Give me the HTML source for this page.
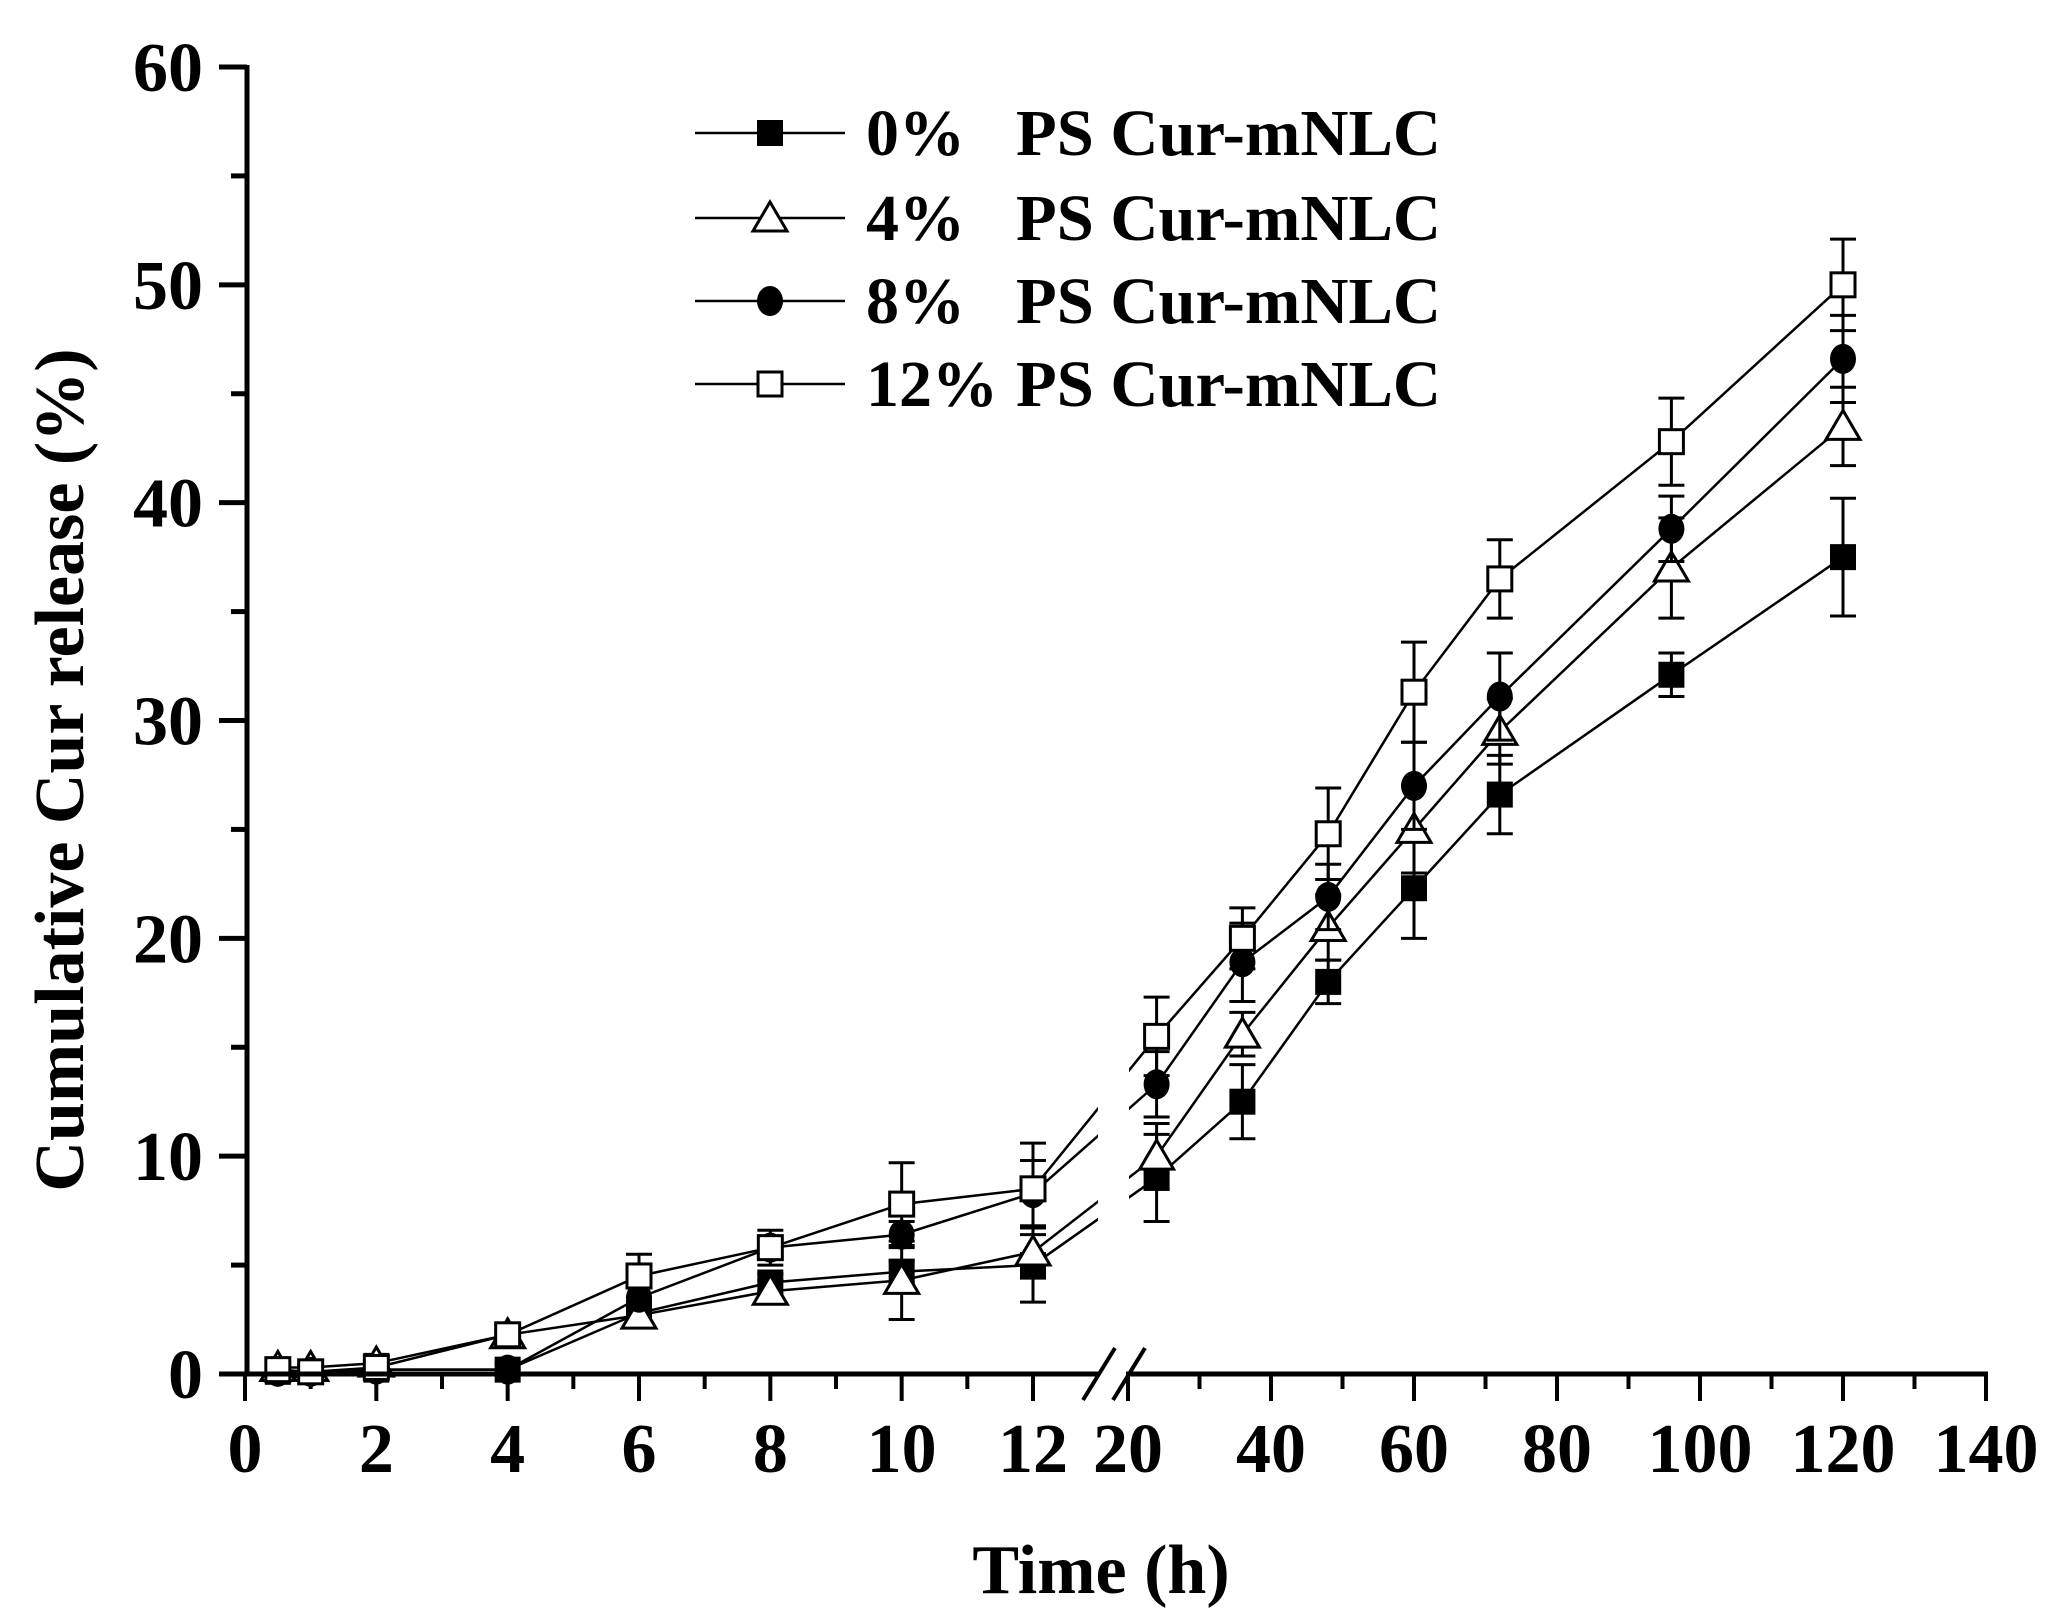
<!DOCTYPE html>
<html><head><meta charset="utf-8"><style>
html,body{margin:0;padding:0;background:#fff}
svg{display:block}
text{font-family:"Liberation Serif",serif;font-weight:bold;fill:#000}
</style></head><body>
<svg id="chart" width="2048" height="1623" viewBox="0 0 2048 1623" xmlns="http://www.w3.org/2000/svg"></svg>
<script>
const hours = [0.5,1,2,4,6,8,10,12,24,36,48,60,72,96,120];
const s0 = [0.1,0.1,0.2,0.2,2.8,4.2,4.7,5.0,9.0,12.5,18.0,22.3,26.6,32.1,37.5];
const e0 = [0.2,0.2,0.2,0.3,0.5,0.4,0.5,1.7,2.0,1.7,1.0,2.3,1.8,1.0,2.7];
const s4 = [0.3,0.3,0.5,1.8,2.7,3.8,4.3,5.6,10.0,15.6,20.5,25.0,29.5,37.0,43.5];
const e4 = [0.3,0.3,0.4,0.5,0.5,0.5,1.8,1.2,1.5,1.0,1.5,2.0,1.5,2.3,1.8];
const s8 = [0.1,0.1,0.2,0.2,3.5,5.8,6.4,8.3,13.3,18.9,21.9,27.0,31.1,38.8,46.6];
const e8 = [0.2,0.2,0.2,0.3,0.5,0.5,0.6,1.5,1.5,1.8,1.5,2.0,2.0,1.5,2.0];
const s12 = [0.2,0.1,0.3,1.8,4.5,5.8,7.8,8.5,15.5,20.0,24.8,31.3,36.5,42.8,50.0];
const e12 = [0.3,0.3,0.3,0.5,1.0,0.8,1.9,2.1,1.8,1.4,2.1,2.3,1.8,2.0,2.1];
const yTicks = [0,10,20,30,40,50,60];
const xTicksA = [0,2,4,6,8,10,12];
const xTicksB = [20,40,60,80,100,120,140];
const legendPct = ["0%","4%","8%","12%"];

const NS="http://www.w3.org/2000/svg";
const svg=document.getElementById('chart');
function mk(tag,attrs,parent){const e=document.createElementNS(NS,tag);for(const k in attrs)e.setAttribute(k,attrs[k]);(parent||svg).appendChild(e);return e;}
const X0=245, Y0=1374;
function yS(v){return Y0-v*(1374-67)/60;}
function xS(h){return h<=13 ? X0+h*(1033-X0)/12 : 1128+(h-20)*(1986-1128)/120;}

for(let v=0;v<=60;v+=5){
  const major=v%10===0;
  const t=mk('line',{x1:247-(major?28:16),x2:247,y1:yS(v),y2:yS(v),stroke:'#000','stroke-width':5});
  
  
}
yTicks.forEach(v=>{
  const t=mk('text',{x:203,y:yS(v)+24,'font-size':70,'text-anchor':'end'});
  t.textContent=v;
  
  
});
for(let h=0;h<=12;h++){
  const major=h%2===0;
  const t=mk('line',{x1:xS(h),x2:xS(h),y1:Y0,y2:Y0+(major?27:15),stroke:'#000','stroke-width':4});
  
  
}
for(let h=20;h<=140;h+=10){
  const major=h%20===0;
  const t=mk('line',{x1:xS(h),x2:xS(h),y1:Y0,y2:Y0+(major?27:15),stroke:'#000','stroke-width':4});
  
  
}
xTicksA.concat(xTicksB).forEach(v=>{
  const t=mk('text',{x:xS(v),y:1472,'font-size':70,'text-anchor':'middle'});
  t.textContent=v;
  
  
});

const series=[[s0,e0,'fsq'],[s4,e4,'tri'],[s8,e8,'cir'],[s12,e12,'osq']];
function marker(kind,x,y,g){
  let m;
  if(kind==='fsq')m=mk('rect',{x:x-13,y:y-13,width:26,height:26,fill:'#000'},g);
  else if(kind==='osq')m=mk('rect',{x:x-12,y:y-12,width:24,height:24,fill:'#fff',stroke:'#000','stroke-width':3},g);
  else if(kind==='cir')m=mk('ellipse',{cx:x,cy:y,rx:13,ry:15,fill:'#000'},g);
  else m=mk('polygon',{points:`${x},${y-16} ${x+17},${y+13} ${x-17},${y+13}`,fill:'#fff',stroke:'#000','stroke-width':3},g);
  
  
}
const gLines=mk('g',{});


series.forEach(([s,e,k])=>{
  const pts=hours.map((h,i)=>xS(h)+','+yS(s[i])).join(' ');
  const pl=mk('polyline',{points:pts,fill:'none',stroke:'#000','stroke-width':2.5},gLines);
  
  
});
const gap=mk('rect',{x:1098,y:900,width:31,height:470,fill:'#fff'});


series.forEach(([s,e,k])=>{
  const g=mk('g',{});
  
  
  hours.forEach((h,i)=>{
    const x=xS(h),yt=yS(s[i]+e[i]),yb=yS(Math.max(0,s[i]-e[i]));
    const eb=mk('path',{d:`M${x},${yt}V${yb}M${x-13},${yt}H${x+13}M${x-13},${yb}H${x+13}`,stroke:'#000','stroke-width':3,fill:'none'},g);
    
    
  });
  hours.forEach((h,i)=>marker(k,xS(h),yS(s[i]),g));
});

const ya=mk('line',{x1:247,x2:247,y1:65,y2:Y0+2,stroke:'#000','stroke-width':5});


const xa1=mk('line',{x1:245,x2:1098,y1:Y0,y2:Y0,stroke:'#000','stroke-width':5});


const xa2=mk('line',{x1:1126,x2:1988,y1:Y0,y2:Y0,stroke:'#000','stroke-width':5});


const br=mk('path',{d:'M1083,1400L1115,1348M1113,1400L1145,1348',stroke:'#000','stroke-width':4});



const xt=mk('text',{x:1101,y:1593,'font-size':70,'text-anchor':'middle'});
xt.textContent='Time (h)';


const yt=mk('text',{x:0,y:0,'font-size':70,'text-anchor':'middle',transform:'translate(83,770) rotate(-90)'});
yt.textContent='Cumulative Cur release (%)';



const rowsY=[133,218,301,384];
const kinds=['fsq','tri','cir','osq'];
legendPct.forEach((p,i)=>{
  const g=mk('g',{});
  
  
  mk('line',{x1:695,x2:845,y1:rowsY[i],y2:rowsY[i],stroke:'#000','stroke-width':2.5},g);
  marker(kinds[i],770,rowsY[i],g);
  const t1=mk('text',{x:866,y:rowsY[i]+22,'font-size':66},g);
  t1.textContent=p;
  const t2=mk('text',{x:1016,y:rowsY[i]+22,'font-size':66,textLength:425,lengthAdjust:'spacingAndGlyphs'},g);
  t2.textContent='PS Cur-mNLC';
});
</script>
</body></html>
